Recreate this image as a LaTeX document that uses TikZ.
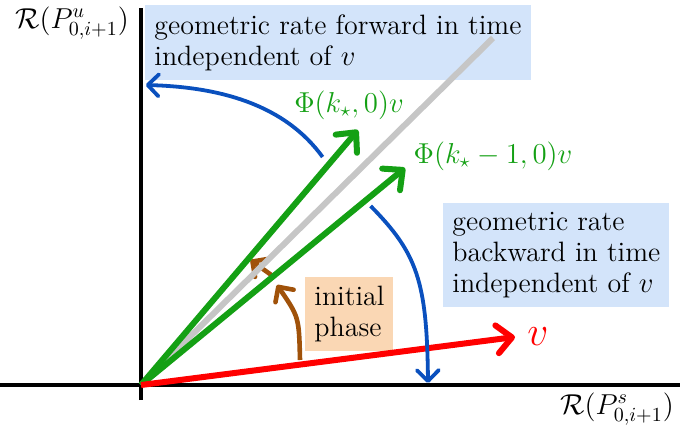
\documentclass[tikz,border=0pt]{standalone}
\usepackage{amsmath}
\usepackage{amssymb}
\usetikzlibrary{arrows.meta,positioning,calc}
\definecolor{PG}{HTML}{14A014}
\definecolor{PBl}{HTML}{0A50BE}
\definecolor{PBr}{HTML}{A0520A}
\definecolor{PBox}{HTML}{D3E4FA}
\definecolor{POr}{HTML}{FAD7B4}

\begin{document}
\begin{tikzpicture}[x=20pt,y=20pt,
    txt/.style={font=\fontsize{14}{15.5}\selectfont},
    mlab/.style={font=\fontsize{14.8}{15.5}\selectfont, PG},
    infobox/.style={txt, fill=PBox, align=left, inner sep=4.5pt},
    vec/.style={line width=3pt, -{Straight Barb[round,length=7.5pt,width=14pt]}},
    turn/.style={PBl, line width=1.9pt, -{Straight Barb[round,length=5.5pt,width=11pt]}},
    push/.style={PBr, line width=2.3pt, -{Straight Barb[round,length=5.5pt,width=11pt]}}]

    \useasboundingbox (-3.525,-1.25) rectangle (13.475,9.625);

    %% points
    \coordinate (O) at (0,0);
    \coordinate (xl) at (-3.6,0);
    \coordinate (xr) at (13.6,0);
    \coordinate (yb) at (0,-0.375);
    \coordinate (yt) at (0,9.43);
    \coordinate (diag) at (8.8,8.675);
    \coordinate (tipA) at (5.425,6.375);
    \coordinate (tipB) at (6.6,5.425);
    \coordinate (tipV) at (9.35,1.2);

    %% captions (under the lines)
    \node[infobox, anchor=north west] (fwd) at (0.1,9.5)
      {geometric rate forward in time\\independent of $v$};
    \node[infobox, anchor=north west] (bwd) at (7.55,4.55)
      {geometric rate\\backward in time\\independent of $v$};
    \node[txt, fill=POr, align=left, inner sep=4.5pt, anchor=north west] (init) at (4.1,2.7)
      {initial\\phase};

    %% axes
    \draw[line width=2pt] (xl) -- (xr);
    \draw[line width=2pt] (yb) -- (yt);
    \node[txt, inner sep=1pt] (ylab) at (-1.725,9.05) {$\mathcal{R}(P^u_{0,i+1})$};
    \node[txt, inner sep=1pt] (xlab) at (11.9,-0.6) {$\mathcal{R}(P^s_{0,i+1})$};

    %% initial phase (under the rays)
    \coordinate (p0) at (3.975,0.625);
    \coordinate (p1) at (3.4,2.5);
    \coordinate (p2) at (3.3,2.72);
    \coordinate (p3) at (2.74,3.12);
    \draw[push] (p0) .. controls (3.95,1.7) .. (p1);
    \draw[push] (p2) -- (p3);

    %% diagonal
    \draw[gray!45, line width=3pt] (O) -- (diag);

    %% rays
    \draw[vec, PG] (O) -- (tipA);
    \draw[vec, PG] (O) -- (tipB);
    \draw[vec, red] (O) -- (tipV);
    \node[mlab] (labA) at (5.2,7.0) {$\Phi(k_\star,0)v$};
    \node[mlab] (labB) at (8.8,5.725) {$\Phi(k_\star-1,0)v$};
    \node[red, font=\fontsize{20}{20}\selectfont] (labV) at (9.925,1.2) {$v$};

    %% rotations
    \coordinate (fa) at (4.54,5.7);
    \coordinate (fb) at (0.12,7.5);
    \draw[turn] (fa) .. controls (3.6,7.0) and (2.0,7.45) .. (fb);
    \coordinate (ba) at (5.74,4.475);
    \coordinate (bb) at (7.175,0.05);
    \draw[turn] (ba) .. controls (6.9,3.3) and (7.15,2.6) .. (bb);

\end{tikzpicture}
\end{document}
